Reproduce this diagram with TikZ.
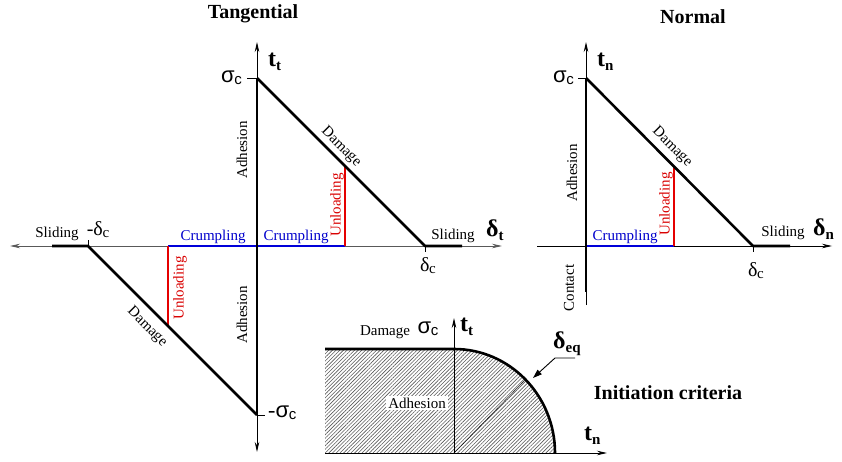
\documentclass[tikz,border=0pt]{standalone}
\usepackage{fontspec}
\setmainfont{Liberation Serif}
\newfontfamily\mysansfam{Liberation Sans}
\usetikzlibrary{arrows.meta,patterns.meta}
\newcommand{\mysig}{{\mysansfam σ\kern-0.3pt\raisebox{-2pt}{\fontsize{15}{15}\selectfont c}}}
\newcommand{\mydel}{δ\kern-0.3pt\raisebox{-2pt}{\fontsize{15}{15}\selectfont c}}
\newcommand{\bsym}[2]{{\fontsize{24}{24}\selectfont\bfseries #1\raisebox{-4pt}{\fontsize{15}{15}\selectfont #2}}}
\tikzset{
  lbl/.style={inner sep=0pt, font=\fontsize{15}{15}\selectfont},
  ttl/.style={inner sep=0pt, font=\fontsize{20}{20}\selectfont\bfseries},
  sym/.style={inner sep=0pt, font=\fontsize{22}{22}\selectfont},
  symsm/.style={inner sep=0pt, font=\fontsize{20}{20}\selectfont},
  thk/.style={line width=2.6pt},
  thn/.style={line width=0.9pt},
  axisgray/.style={line width=0.9pt, draw=black!65},
  arrhead/.style={-{Stealth[length=10pt,width=4.5pt]}},
  redln/.style={line width=2.6pt, draw=red!90!black},
  blueln/.style={line width=2.6pt, draw=blue!85!black},
  redtxt/.style={lbl, text=red!85!black},
  bluetxt/.style={lbl, text=blue!80!black},
}
\begin{document}
\begin{tikzpicture}[x=1pt,y=-1pt]
\useasboundingbox (0,0) rectangle (842,462);
% ---------------- Tangential ----------------
\coordinate (TO) at (257,246);
\coordinate (TTop) at (257,78);
\coordinate (TBot) at (257,415);
\coordinate (TArrUp) at (257,42);
\coordinate (TArrDn) at (257,452);
\coordinate (TArrL) at (10,246);
\coordinate (TArrR) at (502,246);
\coordinate (TDc) at (425,246);
\coordinate (TSlR) at (462,246);
\coordinate (TmDc) at (88,246);
\coordinate (TSlL) at (52,246);
\coordinate (TUnR) at (345,246);
\coordinate (TUnRt) at (345,166);
\coordinate (TUnL) at (168,246);
\coordinate (TUnLb) at (168,326);
\coordinate (TtickS1) at (247,78);
\coordinate (TtickS2) at (265,415);
\coordinate (TtickD1) at (88,240);
\coordinate (TtickD2) at (425,252);

\draw[axisgray, arrhead] (TO) -- (TArrR);
\draw[axisgray, arrhead] (TO) -- (TArrL);
\draw[thn, arrhead] (TO) -- (TArrUp);
\draw[thn, arrhead] (TO) -- (TArrDn);
\draw[thn] (TtickS1) -- (TTop);
\draw[thn] (TBot) -- (TtickS2);
\draw[thn] (TmDc) -- (TtickD1);
\draw[thn] (TDc) -- (TtickD2);
\draw[blueln] (TUnL) -- (TUnR);
\draw[redln] (TUnR) -- (TUnRt);
\draw[redln] (TUnL) -- (TUnLb);
\draw[thk] (TTop) -- (TBot);
\draw[thk, line join=round] (TTop) -- (TDc) -- (TSlR);
\draw[thk, line join=round] (TSlL) -- (TmDc) -- (TBot);

\node[ttl] (tTitle) at (253,14) {Tangential};
\node[anchor=west, inner sep=0pt] (tTt) at (268,62) {\bsym{t}{t}};
\node[anchor=west, inner sep=0pt] (tDt) at (486,230) {\bsym{δ}{t}};
\node[sym, anchor=east] (tSig) at (242,78) {\mysig};
\node[sym, anchor=west] (tmSig) at (268,413) {-\mysig};
\node[symsm] (tmDc) at (98,230) {-\mydel};
\node[symsm] (tDc) at (428,266) {\mydel};
\node[lbl, rotate=90] (tAd1) at (242,150) {Adhesion};
\node[lbl, rotate=90] (tAd2) at (242,315) {Adhesion};
\node[lbl, rotate=-45] (tDm1) at (341,147) {Damage};
\node[lbl, rotate=-45] (tDm2) at (147,327) {Damage};
\node[redtxt, rotate=90] (tUn1) at (337,205) {Unloading};
\node[redtxt, rotate=90] (tUn2) at (180,288) {Unloading};
\node[bluetxt] (tCr1) at (213,237) {Crumpling};
\node[bluetxt] (tCr2) at (296,237) {Crumpling};
\node[lbl] (tSl1) at (57,234) {Sliding};
\node[lbl] (tSl2) at (453,236) {Sliding};

% ---------------- Normal ----------------
\coordinate (NO) at (586,246);
\coordinate (NTop) at (586,78);
\coordinate (NBot) at (586,292);
\coordinate (NBotThin) at (586,305);
\coordinate (NArrUp) at (586,42);
\coordinate (NLeft) at (537,246);
\coordinate (NArrR) at (832,246);
\coordinate (NDc) at (753,246);
\coordinate (NSl) at (790,246);
\coordinate (NUn) at (674,246);
\coordinate (NUnt) at (674,166);
\coordinate (NtickS) at (578,78);
\coordinate (NtickD) at (753,252);

\draw[thn] (NLeft) -- (NO);
\draw[thn, arrhead] (NO) -- (NArrR);
\draw[thn, arrhead] (NBotThin) -- (NArrUp);
\draw[thn] (NtickS) -- (NTop);
\draw[thn] (NDc) -- (NtickD);
\draw[blueln] (NO) -- (NUn);
\draw[redln] (NUn) -- (NUnt);
\draw[thk] (NTop) -- (NBot);
\draw[thk, line join=round] (NTop) -- (NDc) -- (NSl);

\node[ttl] (nTitle) at (693,17) {Normal};
\node[anchor=west, inner sep=0pt] (nTn) at (597,62) {\bsym{t}{n}};
\node[anchor=west, inner sep=0pt] (nDn) at (813,229) {\bsym{δ}{n}};
\node[sym, anchor=east] (nSig) at (574,78) {\mysig};
\node[symsm] (nDc) at (756,271) {\mydel};
\node[lbl, rotate=90] (nAd) at (572,173) {Adhesion};
\node[lbl, rotate=-45] (nDm) at (672,147) {Damage};
\node[redtxt, rotate=90] (nUn) at (666,204) {Unloading};
\node[bluetxt] (nCr) at (625,237) {Crumpling};
\node[lbl] (nSl) at (783,233) {Sliding};
\node[lbl, rotate=90] (nCo) at (569,288) {Contact};

% ---------------- Initiation criteria ----------------
\coordinate (CO) at (454,453);
\coordinate (CTL) at (325,349);
\coordinate (CTop) at (454,349);
\coordinate (CR) at (555,453);
\coordinate (CBL) at (325,453);
\coordinate (CArrUp) at (454,318);
\coordinate (CArrR) at (607,453);
\coordinate (CDiag) at (525.4,379.5);
\coordinate (CLead1) at (575,358);
\coordinate (CLead2) at (555,358);

\fill[pattern={Lines[angle=45,distance=2.6pt,line width=0.6pt]}, pattern color=black!65]
  (CTL) -- (CTop) .. controls (509.8,349) and (555,395.6) .. (CR) -- (CBL) -- cycle;
\draw[thin] (CO) -- (CDiag);
\draw[thn] (CBL) -- (CO);
\draw[thn, arrhead] (CO) -- (CArrR);
\draw[thn, arrhead] (CO) -- (CArrUp);
\draw[thk, line join=round] (CTL) -- (CTop) .. controls (509.8,349) and (555,395.6) .. (CR);
\draw[thn, -{Triangle[length=9pt,width=6pt]}] (CLead1) -- (CLead2) -- (533,378);

\node[lbl] (cDm) at (385,332) {Damage};
\node[sym] (cSig) at (428,329) {\mysig};
\node[anchor=west, inner sep=0pt] (cTt) at (460,327) {\bsym{t}{t}};
\node[anchor=west, inner sep=0pt] (cDeq) at (553,344) {\bsym{δ}{eq}};
\node[anchor=west, inner sep=0pt] (cTn) at (584,436) {\bsym{t}{n}};
\node[lbl, fill=white, inner sep=2pt] (cAd) at (417,403) {Adhesion};
\node[ttl] (cIc) at (668,393) {Initiation criteria};
\end{tikzpicture}
\end{document}
